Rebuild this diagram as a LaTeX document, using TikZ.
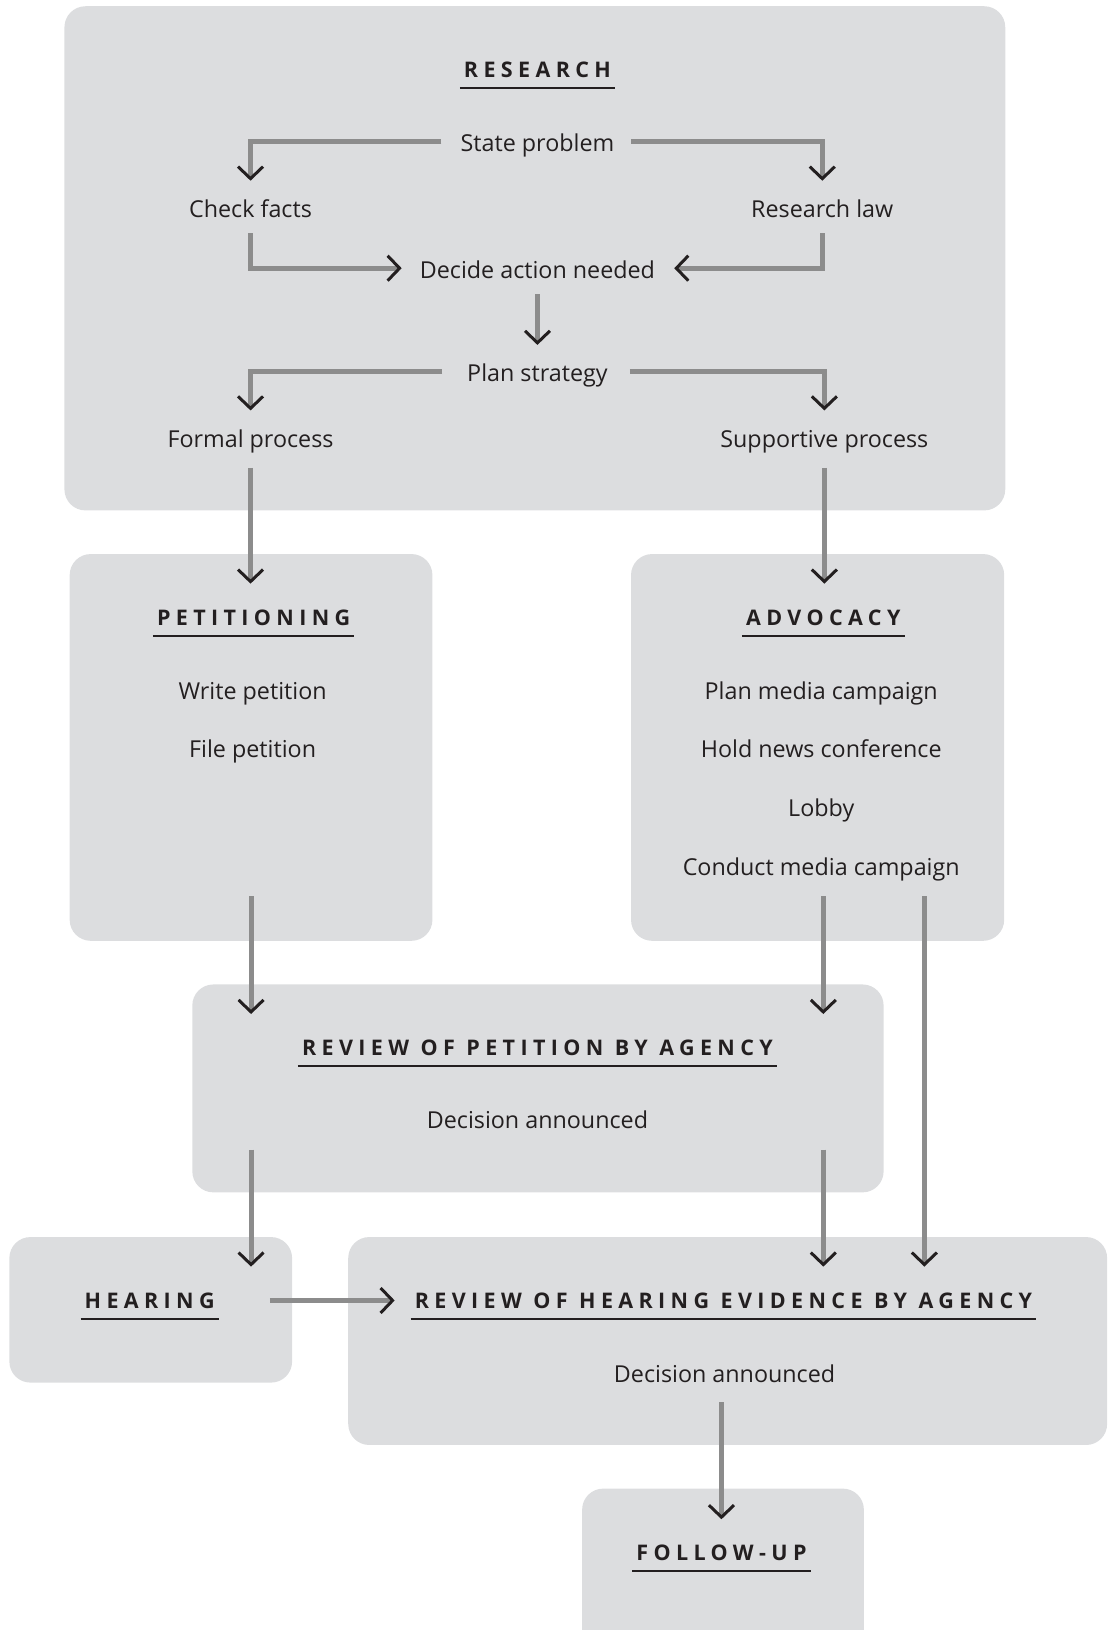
\documentclass[tikz,border=0pt]{standalone}
\usepackage{fontspec}
\setmainfont{Open Sans}
\newfontfamily\headfamily[LetterSpace=25, WordSpace=1.05]{Open Sans}
\usetikzlibrary{arrows.meta}
\definecolor{boxgray}{HTML}{DCDDDF}
\definecolor{shaftgray}{HTML}{8C8C8C}
\definecolor{inkblack}{HTML}{231F20}
\tikzset{%
  box/.style={fill=boxgray, rounded corners=21pt, inner sep=0pt},
  item/.style={font=\fontsize{23.3}{28}\selectfont, text=inkblack, inner sep=0pt, text height=21pt, text depth=1pt},
  heading/.style={font=\fontsize{21.5}{26}\selectfont\headfamily\bfseries, text=inkblack, inner sep=0pt, text height=15.3pt, text depth=0pt},
  uline/.style={draw=inkblack, line width=2pt},
  flow/.style={draw=shaftgray, line width=5pt, -{Straight Barb[color=inkblack, length=12pt, width=25pt, line width=3pt]}}
}
\begin{document}
\begin{tikzpicture}[x=1.0394pt, y=-1.0394pt]
  \useasboundingbox (0,0) rectangle (1065,1568);
  \clip (0,0) rectangle (1065,1568);

  % boxes
  \node[box, minimum width=940.7pt, minimum height=504.1pt] (resbox) at (514.5,248.5) {};
  \node[box, minimum width=362.7pt, minimum height=386.7pt] (petbox) at (241.5,719) {};
  \node[box, minimum width=373.1pt, minimum height=386.7pt] (advbox) at (786.5,719) {};
  \node[box, minimum width=691.2pt, minimum height=207.9pt] (revpetbox) at (517.5,1047) {};
  \node[box, minimum width=282.7pt, minimum height=145.5pt] (hearbox) at (145,1260) {};
  \node[box, minimum width=758.8pt, minimum height=207.9pt] (revhearbox) at (700,1290) {};
  \node[box, minimum width=281.7pt, minimum height=207.9pt] (folbox) at (695.5,1532) {};

  % research
  \node[heading] (resh) at (517,67) {RESEARCH};
  \draw[uline] ([xshift=-4pt, yshift=-10.4pt]resh.south west) -- ([xshift=4pt, yshift=-10.4pt]resh.south east);
  \node[item] (state) at (517,136) {State problem};
  \node[item] (check) at (241,200) {Check facts};
  \node[item] (law) at (791,200) {Research law};
  \node[item] (decide) at (517,258) {Decide action needed};
  \node[item] (plan) at (517,357) {Plan strategy};
  \node[item] (formal) at (241,421) {Formal process};
  \node[item] (support) at (793,421) {Supportive process};

  % petitioning
  \node[heading] (peth) at (244,594) {PETITIONING};
  \draw[uline] ([xshift=-4pt, yshift=-10.4pt]peth.south west) -- ([xshift=4pt, yshift=-10.4pt]peth.south east);
  \node[item] (write) at (243,663) {Write petition};
  \node[item] (file) at (243,719) {File petition};

  % advocacy
  \node[heading] (advh) at (792,594) {ADVOCACY};
  \draw[uline] ([xshift=-4pt, yshift=-10.4pt]advh.south west) -- ([xshift=4pt, yshift=-10.4pt]advh.south east);
  \node[item] (media) at (790,663) {Plan media campaign};
  \node[item] (news) at (790,719) {Hold news conference};
  \node[item] (lobby) at (790,776) {Lobby};
  \node[item] (conduct) at (790,833) {Conduct media campaign};

  % review of petition
  \node[heading] (revpeth) at (517,1008) {REVIEW OF PETITION BY AGENCY};
  \draw[uline] ([xshift=-4pt, yshift=-10.4pt]revpeth.south west) -- ([xshift=4pt, yshift=-10.4pt]revpeth.south east);
  \node[item] (decpet) at (517,1076) {Decision announced};

  % hearing
  \node[heading] (hearh) at (144,1251) {HEARING};
  \draw[uline] ([xshift=-4pt, yshift=-10.4pt]hearh.south west) -- ([xshift=4pt, yshift=-10.4pt]hearh.south east);

  % review of hearing evidence
  \node[heading] (revhearh) at (696,1251) {REVIEW OF HEARING EVIDENCE BY AGENCY};
  \draw[uline] ([xshift=-4pt, yshift=-10.4pt]revhearh.south west) -- ([xshift=4pt, yshift=-10.4pt]revhearh.south east);
  \node[item] (dechear) at (697,1320) {Decision announced};

  % follow-up
  \node[heading] (folh) at (694,1494) {FOLLOW-UP};
  \draw[uline] ([xshift=-4pt, yshift=-10.4pt]folh.south west) -- ([xshift=4pt, yshift=-10.4pt]folh.south east);

  % connectors
  \draw[flow, shorten <=19pt, shorten >=16pt] (state.west) -| (check.north);
  \draw[flow, shorten <=17pt, shorten >=16pt] (state.east) -| (law.north);
  \draw[flow, shorten <=14pt, shorten >=18pt] (check.south) |- (decide.west);
  \draw[flow, shorten <=14pt, shorten >=19pt] (law.south) |- (decide.east);
  \draw[flow, shorten <=15pt, shorten >=15pt] (decide) -- (plan);
  \draw[flow, shorten <=25pt, shorten >=16pt] (plan.west) -| (formal.north);
  \draw[flow, shorten <=22pt, shorten >=16pt] (plan.east) -| (support.north);
  \draw[flow, shorten <=19pt, shorten >=26pt] (formal.south) -- (formal.south |- peth.north);
  \draw[flow, shorten <=19pt, shorten >=26pt] (support.south) -- (support.south |- advh.north);
  \draw[flow, shorten <=-45pt, shorten >=26pt] (petbox.south) -- (petbox.south |- revpeth.north);
  \draw[flow, shorten <=-45pt, shorten >=26pt] (advh |- advbox.south) -- (advh |- revpeth.north);
  \draw[flow, shorten <=-45pt, shorten >=26pt] ([xshift=-80pt]advbox.south east) -- ([xshift=-80pt]advbox.south east |- revhearh.north);
  \draw[flow, shorten <=-43pt, shorten >=26pt] (petbox.south |- revpetbox.south) -- (petbox.south |- hearh.north);
  \draw[flow, shorten <=-43pt, shorten >=26pt] (advh |- revpetbox.south) -- (advh |- revhearh.north);
  \draw[flow, shorten <=55pt, shorten >=20pt] (hearh.east) -- (revhearh.west);
  \draw[flow, shorten <=-43pt, shorten >=26pt] (folh |- revhearbox.south) -- (folh.north);
\end{tikzpicture}
\end{document}
